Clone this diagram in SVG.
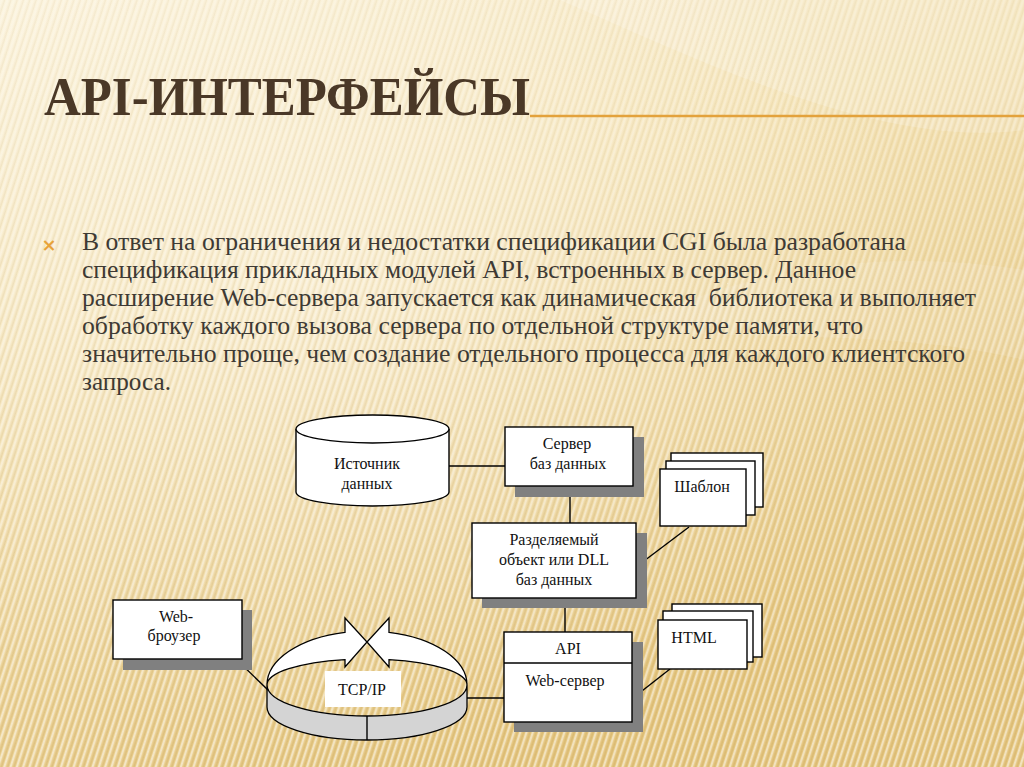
<svg xmlns="http://www.w3.org/2000/svg" width="1024" height="767" viewBox="0 0 1024 767">
  <style>
    .title { font-family: "Liberation Serif", "DejaVu Serif", serif; font-weight: bold; font-size: 54px; fill: #4a3827; }
    .body { font-family: "Liberation Serif", "DejaVu Serif", serif; font-size: 26px; fill: #3e3a34; }
    .lbl { font-family: "Liberation Serif", "DejaVu Serif", serif; font-size: 16px; fill: #111; text-anchor: middle; }
    .box { fill: #fff; stroke: #000; stroke-width: 1.4; }
    .shadow { fill: #808080; }
    .conn { stroke: #000; stroke-width: 1.4; fill: none; }
    .ring { fill: #fff; stroke: #000; stroke-width: 1.3; stroke-linejoin: miter; }
    .band { fill: #d4d4d4; stroke: #000; stroke-width: 1.3; }
  </style>
  <defs>
    <linearGradient id="bg" x1="0" y1="0" x2="0.45" y2="1">
      <stop offset="0" stop-color="#fbf3dc"/>
      <stop offset="0.4" stop-color="#f5e4b8"/>
      <stop offset="1" stop-color="#e5c67f"/>
    </linearGradient>
    <radialGradient id="glow" cx="0.3" cy="0.35" r="0.6">
      <stop offset="0" stop-color="#fffaf0" stop-opacity="0.5"/>
      <stop offset="1" stop-color="#fffaf0" stop-opacity="0"/>
    </radialGradient>
    <linearGradient id="stripeFade" x1="0" y1="0" x2="0" y2="1">
      <stop offset="0" stop-color="#fff" stop-opacity="0.4"/>
      <stop offset="1" stop-color="#fff" stop-opacity="1"/>
    </linearGradient>
    <mask id="fadeMask">
      <rect width="1024" height="767" fill="url(#stripeFade)"/>
    </mask>
    <pattern id="stripes" width="6" height="6" patternUnits="userSpaceOnUse" patternTransform="rotate(18)">
      <rect x="0" y="0" width="2.2" height="6" fill="#fff" opacity="0.5"/>
      <rect x="3.5" y="0" width="1.5" height="6" fill="#b08a40" opacity="0.2"/>
    </pattern>
  </defs>

  <!-- background -->
  <rect width="1024" height="767" fill="url(#bg)"/>
  <rect width="1024" height="767" fill="url(#glow)"/>
  <path d="M560,0 C700,60 880,150 1024,130 L1024,0 Z" fill="#fff" opacity="0.18"/>
  <path d="M620,330 C760,260 900,250 1024,270 L1024,360 C900,330 760,340 620,330 Z" fill="#fff" opacity="0.12"/>
  <rect width="1024" height="767" fill="url(#stripes)" mask="url(#fadeMask)"/>

  <!-- title -->
  <g id="title">
    <text class="title" x="44" y="115" textLength="486" lengthAdjust="spacingAndGlyphs">API-ИНТЕРФЕЙСЫ</text>
    <line x1="530" y1="116" x2="1024" y2="116" stroke="#e3a23c" stroke-width="2.5"/>
  </g>

  <!-- body text -->
  <g id="bodytext">
    <text x="49" y="251" font-family="'DejaVu Sans', sans-serif" font-size="18" font-weight="bold" fill="#e8a33a" text-anchor="middle">×</text>
    <text class="body" x="82" y="250" textLength="824" lengthAdjust="spacingAndGlyphs">В ответ на ограничения и недостатки спецификации CGI была разработана</text>
    <text class="body" x="82" y="278" textLength="774" lengthAdjust="spacingAndGlyphs">спецификация прикладных модулей API, встроенных в сервер. Данное</text>
    <text class="body" x="82" y="306" textLength="894" lengthAdjust="spacingAndGlyphs" xml:space="preserve">расширение Web-сервера запускается как динамическая  библиотека и выполняет</text>
    <text class="body" x="82" y="334" textLength="781" lengthAdjust="spacingAndGlyphs">обработку каждого вызова сервера по отдельной структуре памяти, что</text>
    <text class="body" x="82" y="362" textLength="883" lengthAdjust="spacingAndGlyphs">значительно проще, чем создание отдельного процесса для каждого клиентского</text>
    <text class="body" x="82" y="390" textLength="89" lengthAdjust="spacingAndGlyphs">запроса.</text>
  </g>

  <!-- connectors -->
  <g id="connectors">
    <line class="conn" x1="449" y1="466" x2="505" y2="466"/>
    <line class="conn" x1="570" y1="486" x2="570" y2="523"/>
    <line class="conn" x1="636" y1="567" x2="689" y2="527"/>
    <line class="conn" x1="565" y1="598" x2="565" y2="632"/>
    <line class="conn" x1="633" y1="698" x2="670" y2="669"/>
    <line class="conn" x1="467" y1="698" x2="504" y2="698"/>
    <line class="conn" x1="237" y1="660" x2="268" y2="690"/>
  </g>

  <!-- data source cylinder -->
  <g id="datasource">
    <path class="box" d="M296,429 L296,492 A76.5,14 0 0 0 449,492 L449,429"/>
    <ellipse class="box" cx="372.5" cy="429" rx="76.5" ry="14"/>
    <text class="lbl" x="367" y="469">Источник</text>
    <text class="lbl" x="367" y="489">данных</text>
  </g>

  <!-- DB server -->
  <g id="dbserver">
    <rect class="shadow" x="515" y="437" width="129" height="60"/>
    <rect class="box" x="505" y="427" width="128" height="59"/>
    <text class="lbl" x="567" y="449">Сервер</text>
    <text class="lbl" x="568" y="469">баз данных</text>
  </g>

  <!-- template stack -->
  <g id="template">
    <rect class="box" x="671" y="453" width="92" height="54"/>
    <rect class="box" x="666" y="461" width="89" height="54"/>
    <rect class="box" x="660" y="469" width="86" height="57"/>
    <text class="lbl" x="702" y="492">Шаблон</text>
  </g>

  <!-- shared object / DLL -->
  <g id="dll">
    <rect class="shadow" x="482" y="533" width="165" height="75"/>
    <rect class="box" x="472" y="523" width="164" height="75"/>
    <text class="lbl" x="554" y="545">Разделяемый</text>
    <text class="lbl" x="554" y="565">объект или DLL</text>
    <text class="lbl" x="554" y="585">баз данных</text>
  </g>

  <!-- HTML stack -->
  <g id="html">
    <rect class="box" x="672" y="604" width="90" height="53"/>
    <rect class="box" x="663" y="611" width="90" height="51"/>
    <rect class="box" x="658" y="620" width="89" height="49"/>
    <text class="lbl" x="694" y="643">HTML</text>
  </g>

  <!-- API / Web server -->
  <g id="webserver">
    <rect class="shadow" x="514" y="642" width="129" height="90"/>
    <rect class="box" x="504" y="632" width="128" height="90"/>
    <line class="conn" x1="504" y1="663" x2="632" y2="663"/>
    <text class="lbl" x="568" y="654">API</text>
    <text class="lbl" x="565" y="686">Web-сервер</text>
  </g>

  <!-- Web browser -->
  <g id="browser">
    <rect class="shadow" x="123" y="610" width="129" height="60"/>
    <rect class="box" x="113" y="600" width="129" height="59"/>
    <text class="lbl" x="176" y="622">Web-</text>
    <text class="lbl" x="174" y="641">броузер</text>
  </g>

  <!-- TCP/IP ring -->
  <g id="tcpip">
    <path class="band" d="M267,685 A100,31 0 0 0 467,685 L467,707 A100,33 0 0 1 267,707 Z"/>
    <line class="conn" x1="367" y1="716" x2="367" y2="740"/>
    <path class="ring" d="M267,685 A100,54 0 0 1 345,632.3 L345,618 L367,642 L345,667 L345,659.6 A100,26 0 0 0 267,685 Z"/>
    <path class="ring" d="M467,685 A100,54 0 0 0 389,632.3 L389,618 L367,642 L389,667 L389,659.6 A100,26 0 0 1 467,685 Z"/>
    <rect x="325" y="671" width="76" height="36" fill="#fff"/>
    <text class="lbl" x="362" y="695" font-size="17">TCP/IP</text>
  </g>
</svg>
